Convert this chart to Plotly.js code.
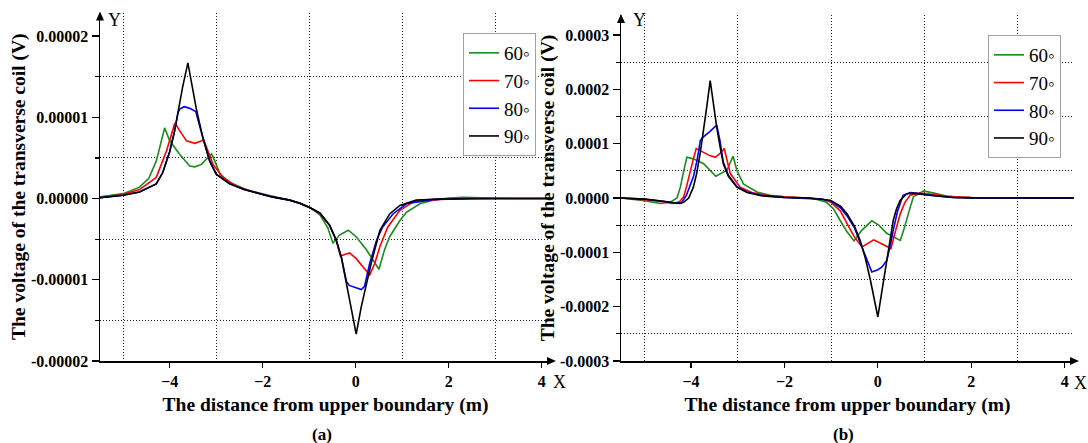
<!DOCTYPE html>
<html>
<head>
<meta charset="utf-8">
<script src="https://cdn.plot.ly/plotly-3.0.1.min.js"></script>
<style>html,body{margin:0;padding:0;background:#fff;}#chart{width:1088px;height:443px;}</style>
</head>
<body>
<div id="chart"></div>
<script>
// ---------- DATA ----------
var seriesNames = ["60\u25E6", "70\u25E6", "80\u25E6", "90\u25E6"];
var seriesColors = ["#1a8c1a", "#ff0000", "#0000ff", "#000000"];

// Panel (a)
var a60x = [-5.5,-5.0,-4.65,-4.45,-4.29,-4.18,-4.11,-4.0,-3.78,-3.57,-3.46,-3.32,-3.10,-3.03,-2.92,-2.71,-2.4,-2.1,-1.8,-1.42,-1.2,-0.99,-0.77,-0.6,-0.49,-0.35,-0.16,0.01,0.23,0.50,0.62,0.73,0.95,1.09,1.38,1.66,2.0,2.3,2.7,3.3,4.2];
var a60y = [0.2e-6,0.6e-6,1.4e-6,2.5e-6,4.6e-6,7.1e-6,8.7e-6,7.1e-6,5.4e-6,4.0e-6,3.9e-6,4.2e-6,5.5e-6,4.6e-6,3.0e-6,2.0e-6,1.2e-6,0.7e-6,0.3e-6,-0.2e-6,-0.6e-6,-1.1e-6,-2.0e-6,-3.6e-6,-5.5e-6,-4.5e-6,-3.9e-6,-4.7e-6,-6.3e-6,-8.7e-6,-6.3e-6,-4.7e-6,-2.7e-6,-1.7e-6,-0.65e-6,-0.2e-6,0.05e-6,0.15e-6,0.1e-6,0,0];

var a70x = [-5.5,-5.0,-4.65,-4.29,-4.07,-3.89,-3.78,-3.64,-3.46,-3.32,-3.27,-3.21,-3.07,-2.85,-2.6,-2.3,-2.0,-1.7,-1.42,-1.2,-0.99,-0.77,-0.56,-0.42,-0.33,-0.24,-0.13,0.01,0.19,0.30,0.41,0.52,0.69,0.95,1.23,1.8,2.5,3.3,4.2];
var a70y = [0.1e-6,0.5e-6,1.1e-6,2.6e-6,5.85e-6,9.3e-6,8.3e-6,7.1e-6,6.8e-6,7.1e-6,7.2e-6,6.3e-6,4.2e-6,2.6e-6,1.6e-6,1.0e-6,0.5e-6,0.1e-6,-0.2e-6,-0.57e-6,-1.1e-6,-1.8e-6,-3.3e-6,-5.1e-6,-7.1e-6,-6.9e-6,-6.7e-6,-7.4e-6,-8.6e-6,-9.4e-6,-8.0e-6,-5.9e-6,-3.5e-6,-1.46e-6,-0.45e-6,-0.1e-6,0,0,0];

var a80x = [-5.5,-5.0,-4.65,-4.29,-4.15,-4.0,-3.9,-3.82,-3.785,-3.69,-3.57,-3.44,-3.36,-3.29,-3.14,-3.0,-2.71,-2.4,-2.14,-1.8,-1.42,-1.2,-0.99,-0.77,-0.56,-0.42,-0.31,-0.2,-0.14,0.0,0.12,0.19,0.3,0.45,0.58,0.8,1.09,1.66,2.5,3.3,4.2];
var a80y = [0.1e-6,0.4e-6,0.8e-6,1.8e-6,3.2e-6,5.8e-6,8.2e-6,10.6e-6,11.0e-6,11.3e-6,11.1e-6,10.7e-6,9.0e-6,7.5e-6,4.6e-6,3.0e-6,1.8e-6,1.1e-6,0.7e-6,0.2e-6,-0.2e-6,-0.57e-6,-1.1e-6,-1.8e-6,-3.3e-6,-5.1e-6,-7.2e-6,-10.2e-6,-10.7e-6,-11.0e-6,-11.2e-6,-10.8e-6,-8.0e-6,-5.1e-6,-3.5e-6,-1.9e-6,-0.65e-6,-0.1e-6,0,0,0];

var a90x = [-5.5,-5.0,-4.65,-4.29,-4.15,-4.0,-3.9,-3.82,-3.72,-3.61,-3.52,-3.43,-3.36,-3.29,-3.14,-3.0,-2.71,-2.4,-2.14,-1.8,-1.42,-1.2,-0.99,-0.77,-0.56,-0.42,-0.31,-0.2,-0.09,0.01,0.12,0.23,0.34,0.52,0.73,0.95,1.3,1.8,2.5,3.3,4.2];
var a90y = [0.1e-6,0.4e-6,0.8e-6,1.8e-6,3.2e-6,5.8e-6,8.2e-6,10.9e-6,13.8e-6,16.7e-6,13.8e-6,11.1e-6,9.3e-6,7.5e-6,4.6e-6,3.0e-6,1.8e-6,1.1e-6,0.7e-6,0.2e-6,-0.2e-6,-0.57e-6,-1.1e-6,-1.8e-6,-3.3e-6,-5.1e-6,-7.2e-6,-10.4e-6,-13.7e-6,-16.7e-6,-13.3e-6,-10.4e-6,-7.8e-6,-3.9e-6,-1.9e-6,-0.85e-6,-0.2e-6,-0.05e-6,0,0,0];

// Panel (b)
var b60x = [-5.5,-5.0,-4.66,-4.45,-4.3,-4.23,-4.13,-4.09,-3.95,-3.73,-3.47,-3.23,-3.10,-3.02,-2.88,-2.59,-2.31,-2.0,-1.5,-1.38,-1.1,-0.95,-0.81,-0.66,-0.51,-0.35,-0.13,0.02,0.19,0.35,0.48,0.55,0.62,0.7,0.76,0.98,1.2,1.48,2.0,3.0,4.2];
var b60y = [0,-0.05e-4,-0.10e-4,-0.08e-4,0.0,0.2e-4,0.6e-4,0.75e-4,0.72e-4,0.63e-4,0.40e-4,0.51e-4,0.77e-4,0.51e-4,0.26e-4,0.11e-4,0.05e-4,0.02e-4,0,-0.01e-4,-0.08e-4,-0.2e-4,-0.41e-4,-0.62e-4,-0.79e-4,-0.6e-4,-0.42e-4,-0.5e-4,-0.65e-4,-0.72e-4,-0.78e-4,-0.6e-4,-0.41e-4,-0.15e-4,0.02e-4,0.13e-4,0.09e-4,0.03e-4,0.01e-4,0,0];

var b70x = [-5.5,-5.0,-4.6,-4.4,-4.25,-4.16,-4.1,-4.02,-3.95,-3.89,-3.75,-3.6,-3.48,-3.38,-3.29,-3.16,-2.95,-2.7,-2.4,-2.0,-1.5,-1.2,-1.0,-0.8,-0.66,-0.5,-0.34,-0.2,-0.09,0.1,0.28,0.38,0.48,0.58,0.69,0.9,1.2,1.6,2.0,3.0,4.2];
var b70y = [0,-0.03e-4,-0.07e-4,-0.10e-4,-0.07e-4,0.02e-4,0.2e-4,0.45e-4,0.72e-4,0.91e-4,0.85e-4,0.78e-4,0.75e-4,0.82e-4,0.91e-4,0.45e-4,0.2e-4,0.1e-4,0.05e-4,0.02e-4,0,-0.02e-4,-0.08e-4,-0.24e-4,-0.47e-4,-0.72e-4,-0.9e-4,-0.82e-4,-0.77e-4,-0.85e-4,-0.93e-4,-0.6e-4,-0.29e-4,-0.08e-4,0.05e-4,0.09e-4,0.06e-4,0.02e-4,0.01e-4,0,0];

var b80x = [-5.5,-5.0,-4.6,-4.3,-4.2,-4.1,-3.95,-3.87,-3.8,-3.74,-3.6,-3.45,-3.38,-3.31,-3.2,-3.02,-2.8,-2.5,-2.0,-1.5,-1.2,-1.0,-0.8,-0.66,-0.5,-0.38,-0.22,-0.13,0.0,0.09,0.19,0.26,0.33,0.42,0.54,0.7,0.9,1.2,1.6,2.0,3.0,4.2];
var b80y = [0,-0.02e-4,-0.06e-4,-0.10e-4,-0.08e-4,0.05e-4,0.39e-4,0.7e-4,1.06e-4,1.12e-4,1.22e-4,1.34e-4,1.05e-4,0.66e-4,0.42e-4,0.21e-4,0.11e-4,0.05e-4,0.01e-4,0,-0.02e-4,-0.06e-4,-0.18e-4,-0.33e-4,-0.55e-4,-0.82e-4,-1.18e-4,-1.36e-4,-1.32e-4,-1.27e-4,-1.15e-4,-0.9e-4,-0.59e-4,-0.25e-4,0.05e-4,0.1e-4,0.08e-4,0.04e-4,0.01e-4,0,0,0];

var b90x = [-5.5,-5.0,-4.6,-4.23,-4.16,-4.05,-3.95,-3.88,-3.8,-3.73,-3.66,-3.59,-3.52,-3.45,-3.38,-3.31,-3.2,-3.02,-2.8,-2.5,-2.0,-1.5,-1.02,-0.8,-0.66,-0.5,-0.38,-0.27,-0.16,-0.08,0.0,0.08,0.16,0.25,0.33,0.40,0.48,0.62,0.76,1.0,1.3,1.62,2.0,3.0,4.2];
var b90y = [0,-0.02e-4,-0.06e-4,-0.10e-4,-0.08e-4,0.0,0.2e-4,0.45e-4,0.85e-4,1.24e-4,1.7e-4,2.16e-4,1.72e-4,1.3e-4,0.95e-4,0.63e-4,0.4e-4,0.2e-4,0.1e-4,0.04e-4,0.01e-4,0,-0.04e-4,-0.15e-4,-0.29e-4,-0.52e-4,-0.78e-4,-1.1e-4,-1.51e-4,-1.85e-4,-2.19e-4,-1.75e-4,-1.33e-4,-0.85e-4,-0.41e-4,-0.2e-4,-0.04e-4,0.08e-4,0.09e-4,0.06e-4,0.03e-4,0.01e-4,0,0,0];

// Ticks
var xTickVals = [-4, -2, 0, 2, 4];
var xMinorVals = [-5, -3, -1, 1, 3];
var yTickValsA = [-0.00002, -0.00001, 0, 0.00001, 0.00002];
var yTickTextA = ["-0.00002", "-0.00001", "0.00000", "0.00001", "0.00002"];
var yMinorValsA = [-0.000015, -0.000005, 0.000005, 0.000015];
var yTickValsB = [-0.0003, -0.0002, -0.0001, 0, 0.0001, 0.0002, 0.0003];
var yTickTextB = ["-0.0003", "-0.0002", "-0.0001", "0.0000", "0.0001", "0.0002", "0.0003"];
var yMinorValsB = [-0.00025, -0.00015, -0.00005, 0.00005, 0.00015, 0.00025];

// ---------- BUILD ----------
var FONT = "'Liberation Serif', 'Times New Roman', 'DejaVu Serif', serif";
var W = 1088, H = 443;
var dataA = [[a60x,a60y],[a70x,a70y],[a80x,a80y],[a90x,a90y]];
var dataB = [[b60x,b60y],[b70x,b70y],[b80x,b80y],[b90x,b90y]];
var traces = [];
dataA.forEach(function(d, i) {
  traces.push({x: d[0], y: d[1], type: "scatter", mode: "lines", name: seriesNames[i],
    line: {color: seriesColors[i], width: 1.6}, xaxis: "x", yaxis: "y", legend: "legend"});
});
dataB.forEach(function(d, i) {
  traces.push({x: d[0], y: d[1], type: "scatter", mode: "lines", name: seriesNames[i],
    line: {color: seriesColors[i], width: 1.6}, xaxis: "x2", yaxis: "y2", legend: "legend2"});
});

var GRIDDASH = "1px,2px";
function xAxis(dom, anchor) {
  return {
    domain: dom, anchor: anchor, range: [-5.5, 4.2],
    tickmode: "array", tickvals: xTickVals, ticks: "outside", ticklen: 5, tickwidth: 1.2, tickcolor: "#000",
    tickfont: {family: FONT, size: 16, color: "#000", weight: "bold"},
    showline: true, linecolor: "#000", linewidth: 1.5, showgrid: false, zeroline: false,
    minor: {tickmode: "array", tickvals: xMinorVals, ticks: "", showgrid: true, griddash: GRIDDASH, gridcolor: "#222", gridwidth: 1},
    title: {text: "The distance from upper boundary (m)", font: {family: FONT, size: 19.5, color: "#000", weight: "bold"}, standoff: 8}
  };
}
function yAxis(dom, anchor, rng, tv, tt, mv) {
  return {
    domain: dom, anchor: anchor, range: rng,
    tickmode: "array", tickvals: tv, ticktext: tt, ticks: "outside", ticklen: 7, tickwidth: 1.2, tickcolor: "#000",
    tickfont: {family: FONT, size: 16, color: "#000", weight: "bold"},
    showline: true, linecolor: "#000", linewidth: 1.5, showgrid: false, zeroline: false,
    minor: {tickmode: "array", tickvals: mv, ticks: "outside", ticklen: 4, tickcolor: "#000", showgrid: true, griddash: GRIDDASH, gridcolor: "#222", gridwidth: 1},
    title: {text: "The voltage of the transverse coil (V)", font: {family: FONT, size: 19.5, color: "#000", weight: "bold"}, standoff: 0}
  };
}

var xdA = [100/W, 551/W], xdB = [621/W, 1074/W];
var ydA = [(H-361)/H, (H-12.5)/H], ydB = [(H-361)/H, (H-15)/H];

function arrowUp(xf, yf) {
  return {type: "path", xref: "paper", yref: "paper", xsizemode: "pixel", ysizemode: "pixel",
    xanchor: xf, yanchor: yf, path: "M-4,-8 L4,-8 L0,1 Z", fillcolor: "#000", line: {width: 0}};
}
function arrowRight(xf, yf) {
  return {type: "path", xref: "paper", yref: "paper", xsizemode: "pixel", ysizemode: "pixel",
    xanchor: xf, yanchor: yf, path: "M-4,-4 L-4,4 L5,0 Z", fillcolor: "#000", line: {width: 0}};
}
function txt(t, px, py, size, bold) {
  return {text: t, xref: "paper", yref: "paper", x: px/W, y: 1 - py/H, xanchor: "center", yanchor: "middle",
    showarrow: false, font: {family: FONT, size: size, color: "#000", weight: bold ? "bold" : "normal"}};
}

var legendStyle = function(xp, yp) {
  return {x: xp/W, y: 1 - yp/H, xanchor: "left", yanchor: "top", bgcolor: "#fff",
    bordercolor: "#a0a0a0", borderwidth: 1, font: {family: FONT, size: 19, color: "#000"}};
};

var layout = {
  width: W, height: H, margin: {l: 0, r: 0, t: 0, b: 0},
  paper_bgcolor: "#fff", plot_bgcolor: "#fff",
  showlegend: true,
  legend: legendStyle(463, 33),
  legend2: legendStyle(988, 35),
  xaxis: xAxis(xdA, "y"),
  yaxis: yAxis(ydA, "x", [-0.00002, 0.0000229], yTickValsA, yTickTextA, yMinorValsA),
  xaxis2: xAxis(xdB, "y2"),
  yaxis2: yAxis(ydB, "x2", [-0.0003, 0.0003368], yTickValsB, yTickTextB, yMinorValsB),
  shapes: [
    arrowUp(xdA[0], ydA[1]), arrowRight(xdA[1], ydA[0]),
    arrowUp(xdB[0], ydB[1]), arrowRight(xdB[1], ydB[0])
  ],
  annotations: [
    txt("Y", 114, 20, 18, false), txt("X", 559, 382, 18, false),
    txt("Y", 639, 20, 18, false), txt("X", 1080, 383, 18, false),
    txt("(a)", 322, 434, 17, true), txt("(b)", 843, 434, 17, true)
  ]
};

Plotly.newPlot("chart", traces, layout, {displayModeBar: false, staticPlot: true});
</script>
</body>
</html>
